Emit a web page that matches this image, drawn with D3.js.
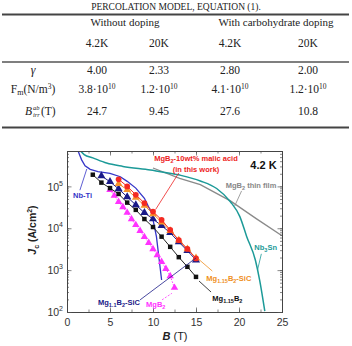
<!DOCTYPE html>
<html>
<head>
<meta charset="utf-8">
<script src="https://cdn.jsdelivr.net/npm/d3@7"></script>
<style>
  body { margin: 0; background: #fff; }
  svg { display: block; }
  .serif { font-family: "Liberation Serif", "Times New Roman", serif; fill: #222; }
  .sans { font-family: "Liberation Sans", Arial, sans-serif; }
</style>
</head>
<body>
<svg id="chart" width="352" height="346"></svg>
<script>
// ---- table values ----
const tableTitle = "PERCOLATION MODEL, EQUATION (1).";
const groupNames = ["Without doping", "With carbohydrate doping"];
const tempLabels = ["4.2K", "20K", "4.2K", "20K"];
const gammaVals = ["4.00", "2.33", "2.80", "2.00"];
const fmMantissa = ["3.8", "1.2", "4.1", "1.2"];
const fmExponent = ["10", "10", "10", "10"];
const birrVals = ["24.7", "9.45", "27.6", "10.8"];

// ---- chart values: B (T), Jc (A/cm2) ----
const bMalic = [6, 7, 8, 9, 10, 11, 12, 13, 14, 15];
const jcMalic = [1.48e5, 1.0e5, 6.3e4, 4.0e4, 2.5e4, 1.58e4, 9.1e3, 5.2e3, 3.2e3, 1.9e3];

const bSic115 = [6, 7, 8, 9, 10, 11, 12, 13, 14, 15];
const jcSic115 = [1.15e5, 8.3e4, 5.4e4, 3.5e4, 2.2e4, 1.4e4, 8.7e3, 5.2e3, 3.2e3, 1.95e3];

const bSic11 = [4, 5, 6, 7, 8, 9, 10, 11, 12, 13, 14, 15];
const jcSic11 = [1.78e5, 1.29e5, 8.7e4, 5.6e4, 3.6e4, 2.35e4, 1.66e4, 1.15e4, 7.8e3, 4.7e3, 2.9e3, 1.74e3];

const bMg115 = [3, 4, 5, 6, 7, 8, 9, 10, 11, 12, 13, 14, 15];
const jcMg115 = [1.9e5, 1.23e5, 9.1e4, 6.6e4, 4.1e4, 2.75e4, 1.66e4, 1.07e4, 6.3e3, 3.6e3, 2.04e3, 1.2e3, 6.9e2];

const bMgB2 = [5, 5.5, 6, 6.5, 7, 7.5, 8, 8.5, 9, 9.5, 10, 10.5, 11, 11.5, 12, 12.5];
const jcMgB2 = [8.3e4, 6.0e4, 4.3e4, 3.2e4, 2.35e4, 1.66e4, 1.2e4, 8.7e3, 6.2e3, 4.5e3, 3.2e3, 2.3e3, 1.58e3, 1.07e3, 7.2e2, 3.8e2];

const bNbTi = [1.3, 1.7, 2.1, 2.7, 3.6, 5, 6.2, 7, 8, 9, 9.85, 10.4, 11];
const jcNbTi = [6.9e5, 4.3e5, 3.1e5, 2.55e5, 2.25e5, 2.05e5, 1.7e5, 1.32e5, 9.1e4, 5.2e4, 2.3e4, 6.3e3, 5.8e2];

const bNb3Sn = [1.6, 2, 3, 4.6, 6.5, 9.7, 13.1, 15.5, 17.4, 19, 20.1, 20.9, 21.9, 22.4, 23.0];
const jcNb3Sn = [6.9e5, 5.75e5, 4.8e5, 3.6e5, 3.0e5, 2.45e5, 1.86e5, 1.35e5, 8.9e4, 4.3e4, 1.9e4, 6.3e3, 1.74e3, 5.8e2, 1.05e2];

const bFilm = [10, 13.1, 15.5, 19, 22, 25];
const jcFilm = [2.75e5, 1.55e5, 1.1e5, 4.5e4, 1.7e4, 6.6e3];

const xTicks = [0, 5, 10, 15, 20, 25];
const yTicks = [1e2, 1e3, 1e4, 1e5];

const svg = d3.select("#chart");

// ---------------- table ----------------
const colX = [97, 159, 230, 308];
const groupX = [125, 276];
const rowLabelX = 33;

svg.append("text").attr("class", "serif").attr("x", 176).attr("y", 10)
  .attr("text-anchor", "middle").attr("font-size", 9.5).attr("fill", "#333").text(tableTitle);

svg.append("line").attr("x1", 2).attr("x2", 349).attr("y1", 14.5).attr("y2", 14.5)
  .attr("stroke", "#444").attr("stroke-width", 2);
svg.append("line").attr("x1", 2).attr("x2", 349).attr("y1", 62).attr("y2", 62)
  .attr("stroke", "#555").attr("stroke-width", 1.3);
svg.append("line").attr("x1", 2).attr("x2", 349).attr("y1", 127.5).attr("y2", 127.5)
  .attr("stroke", "#444").attr("stroke-width", 2);

svg.selectAll(".grp").data(groupNames).enter().append("text")
  .attr("class", "serif").attr("x", (d, i) => groupX[i]).attr("y", 26)
  .attr("text-anchor", "middle").attr("font-size", 11).text(d => d);

svg.selectAll(".tmp").data(tempLabels).enter().append("text")
  .attr("class", "serif").attr("x", (d, i) => colX[i]).attr("y", 47)
  .attr("text-anchor", "middle").attr("font-size", 11.5).text(d => d);

// gamma row
svg.append("text").attr("class", "serif").attr("x", rowLabelX).attr("y", 74)
  .attr("text-anchor", "middle").attr("font-size", 12).attr("font-style", "italic").text("γ");
svg.selectAll(".gam").data(gammaVals).enter().append("text")
  .attr("class", "serif").attr("x", (d, i) => colX[i]).attr("y", 74)
  .attr("text-anchor", "middle").attr("font-size", 11.5).text(d => d);

// Fm row
const fmLabel = svg.append("text").attr("class", "serif").attr("x", rowLabelX).attr("y", 93)
  .attr("text-anchor", "middle").attr("font-size", 11.5);
fmLabel.append("tspan").text("F");
fmLabel.append("tspan").attr("font-size", 8).attr("dy", 2).text("m");
fmLabel.append("tspan").attr("dy", -2).text("(N/m");
fmLabel.append("tspan").attr("font-size", 7.5).attr("dy", -4).text("3");
fmLabel.append("tspan").attr("dy", 4).text(")");

svg.selectAll(".fm").data(fmMantissa).enter().append("text")
  .attr("class", "serif").attr("x", (d, i) => colX[i]).attr("y", 93)
  .attr("text-anchor", "middle").attr("font-size", 11.5)
  .each(function (d, i) {
    const t = d3.select(this);
    t.append("tspan").text(d + "·" + fmExponent[i]);
    t.append("tspan").attr("font-size", 7.5).attr("dy", -4).text("10");
  });

// B_irr row
svg.append("text").attr("class", "serif").attr("x", 25).attr("y", 115)
  .attr("font-size", 11.5).attr("font-style", "italic").text("B");
svg.append("text").attr("class", "serif").attr("x", 33).attr("y", 110)
  .attr("font-size", 6.5).attr("font-style", "italic").text("ab");
svg.append("text").attr("class", "serif").attr("x", 33).attr("y", 117)
  .attr("font-size", 6.5).attr("font-style", "italic").text("irr");
svg.append("text").attr("class", "serif").attr("x", 41).attr("y", 115)
  .attr("font-size", 11.5).text("(T)");
svg.selectAll(".birr").data(birrVals).enter().append("text")
  .attr("class", "serif").attr("x", (d, i) => colX[i]).attr("y", 115)
  .attr("text-anchor", "middle").attr("font-size", 11.5).text(d => d);

// ---------------- chart ----------------
const x = d3.scaleLinear().domain([0, 25]).range([67, 282]);
const y = d3.scaleLog().domain([1e2, 7e5]).range([312, 151]);

svg.append("defs").append("clipPath").attr("id", "plotclip")
  .append("rect").attr("x", 67).attr("y", 151).attr("width", 215).attr("height", 161);

const plot = svg.append("g").attr("clip-path", "url(#plotclip)");

// axes with inward ticks
const minorY = [];
for (let e = 2; e <= 5; e++) for (let m = 1; m <= 9; m++) {
  const v = m * Math.pow(10, e);
  if (v <= 7e5) minorY.push(v);
}
const minorX = d3.range(0, 25.01, 2.5);

const axisG = svg.append("g").attr("class", "sans");
axisG.append("g").attr("transform", "translate(0,312)")
  .call(d3.axisBottom(x).tickValues(minorX).tickSize(-2.5).tickFormat(""));
axisG.append("g").attr("transform", "translate(0,312)")
  .call(d3.axisBottom(x).tickValues(xTicks).tickSize(-4.5).tickPadding(7).tickFormat(d3.format("d")));
axisG.append("g").attr("transform", "translate(0,151)")
  .call(d3.axisTop(x).tickValues(minorX).tickSize(-2.5).tickFormat(""));
axisG.append("g").attr("transform", "translate(0,151)")
  .call(d3.axisTop(x).tickValues(xTicks).tickSize(-4.5).tickFormat(""));
axisG.append("g").attr("transform", "translate(67,0)")
  .call(d3.axisLeft(y).tickValues(minorY).tickSize(-2).tickFormat(""));
const yAxis = axisG.append("g").attr("transform", "translate(67,0)")
  .call(d3.axisLeft(y).tickValues(yTicks).tickSize(-4.5).tickPadding(5).tickFormat(""));
axisG.append("g").attr("transform", "translate(282,0)")
  .call(d3.axisRight(y).tickValues(minorY).tickSize(-2).tickFormat(""));
axisG.append("g").attr("transform", "translate(282,0)")
  .call(d3.axisRight(y).tickValues(yTicks).tickSize(-4.5).tickFormat(""));

axisG.selectAll(".domain").attr("stroke", "#444").attr("stroke-width", 1);
axisG.selectAll(".tick line").attr("stroke", "#555").attr("stroke-width", 0.7);
axisG.selectAll(".tick text").attr("font-size", 10.5).attr("fill", "#333")
  .attr("font-family", "Liberation Sans, Arial, sans-serif");

yAxis.selectAll(".tick").each(function (d) {
  const t = d3.select(this).append("text").attr("x", -4).attr("dy", "0.35em")
    .attr("text-anchor", "end").attr("fill", "#333").attr("font-size", 10.5)
    .attr("font-family", "Liberation Sans, Arial, sans-serif");
  t.append("tspan").text("10");
  t.append("tspan").attr("font-size", 7).attr("dy", -5).text(Math.round(Math.log10(d)));
});

// axis titles
const yTitle = svg.append("text").attr("class", "sans")
  .attr("transform", "translate(36,230) rotate(-90)")
  .attr("text-anchor", "middle").attr("font-size", 10.5).attr("font-weight", "bold").attr("fill", "#222");
yTitle.append("tspan").attr("font-style", "italic").text("J");
yTitle.append("tspan").attr("font-size", 7).attr("dy", 2.5).text("c");
yTitle.append("tspan").attr("dy", -2.5).text(" (A/cm");
yTitle.append("tspan").attr("font-size", 7).attr("dy", -4).text("2");
yTitle.append("tspan").attr("dy", 4).text(")");

const xTitle = svg.append("text").attr("class", "sans").attr("x", 175).attr("y", 340)
  .attr("text-anchor", "middle").attr("font-size", 11).attr("fill", "#222");
xTitle.append("tspan").attr("font-style", "italic").attr("font-weight", "bold").text("B");
xTitle.append("tspan").text(" (T)");

// series
const line = d3.line().x(d => x(d[0])).y(d => y(d[1]));
const zip = (a, b) => a.map((v, i) => [v, b[i]]);

plot.append("path").datum(zip(bFilm, jcFilm)).attr("d", line)
  .attr("fill", "none").attr("stroke", "#8a8a8a").attr("stroke-width", 1.3);
plot.append("path").datum(zip(bNb3Sn, jcNb3Sn)).attr("d", line.curve(d3.curveMonotoneX))
  .attr("fill", "none").attr("stroke", "#1c9a98").attr("stroke-width", 1.5);
plot.append("path").datum(zip(bNbTi, jcNbTi)).attr("d", line.curve(d3.curveLinear))
  .attr("fill", "none").attr("stroke", "#3535c8").attr("stroke-width", 1.3);

function drawSeries(bs, js, color, lineColor, symbol, size, dash) {
  const pts = zip(bs, js);
  plot.append("path").datum(pts).attr("d", line)
    .attr("fill", "none").attr("stroke", lineColor).attr("stroke-width", 1)
    .attr("stroke-dasharray", dash || null);
  plot.selectAll(null).data(pts).enter().append("path")
    .attr("transform", d => `translate(${x(d[0])},${y(d[1])})`)
    .attr("d", d3.symbol().type(symbol).size(size))
    .attr("fill", color);
}

drawSeries(bMgB2, jcMgB2, "#ff33ff", "#ff33ff", d3.symbolTriangle, 24, "1.5,1.5");
drawSeries(bMg115, jcMg115, "#111", "#222", d3.symbolSquare, 20);
drawSeries(bSic11, jcSic11, "#1a1a88", "#1a1a88", d3.symbolTriangle, 28);
drawSeries(bSic115, jcSic115, "#f4922a", "#f4922a", d3.symbolTriangle, 26);
drawSeries(bMalic, jcMalic, "#f42a22", "#f42a22", d3.symbolCircle, 26);

// annotations (positions in data units); text parts: [string, isSubscript]
const notes = [
  { lines: [[["MgB"], ["2", 1], ["-10wt% malic acid"]], [["(in this work)"]]], b: 15, j: 4.1e5, color: "#ee2222", anchor: "middle", from: [13.0, 2.1e5], to: [10.3, 2.8e4] },
  { lines: [[["MgB"], ["2", 1], [" thin film"]]], b: 21.4, j: 9.1e4, color: "#888", anchor: "middle", from: [20.3, 7.8e4], to: [19.5, 3.4e4] },
  { lines: [[["Nb"], ["3", 1], ["Sn"]]], b: 23.1, j: 3.0e3, color: "#1c9a98", anchor: "middle", from: [22.6, 2.45e3], to: [22.15, 1.0e3] },
  { lines: [[["Mg"], ["1.15", 1], ["B"], ["2", 1], ["-SiC"]]], b: 16.2, j: 5.5e2, color: "#ef8f22", anchor: "start", from: [15.2, 1.9e3], to: [16.9, 9.5e2] },
  { lines: [[["Mg"], ["1.15", 1], ["B"], ["2", 1]]], b: 16.9, j: 1.82e2, color: "#111", anchor: "start", from: [15.35, 5.5e2], to: [16.75, 3.0e2] },
  { lines: [[["Mg"], ["1.1", 1], ["B"], ["2", 1], ["-SiC"]]], b: 3.6, j: 1.48e2, color: "#1a1a88", anchor: "start", from: [8.5, 1.95e2], to: [15.0, 1.95e3] },
  { lines: [[["MgB"], ["2", 1]]], b: 9.2, j: 1.3e2, color: "#ff33ff", anchor: "start", from: [11.05, 1.95e2], to: [12.2, 2.8e2], dash: "2,1.5" },
  { lines: [[["Nb-Ti"]]], b: 0.7, j: 5.2e4, color: "#3535c8", anchor: "start", from: [1.5, 8.1e4], to: [2.3, 2.6e5] }
];

notes.forEach(n => {
  svg.append("line").attr("x1", x(n.from[0])).attr("y1", y(n.from[1]))
    .attr("x2", x(n.to[0])).attr("y2", y(n.to[1]))
    .attr("stroke", n.color).attr("stroke-width", 0.8)
    .attr("stroke-dasharray", n.dash || null);
  n.lines.forEach((parts, i) => {
    const t = svg.append("text").attr("class", "sans").attr("x", x(n.b)).attr("y", y(n.j) + i * 11)
      .attr("text-anchor", n.anchor).attr("font-size", 7.5).attr("font-weight", "bold")
      .attr("fill", n.color);
    let shifted = false;
    parts.forEach(p => {
      const sub = !!p[1];
      const ts = t.append("tspan").text(p[0]);
      if (sub && !shifted) { ts.attr("dy", 2).attr("font-size", 5.5); shifted = true; }
      else if (sub) { ts.attr("font-size", 5.5); }
      else if (shifted) { ts.attr("dy", -2); shifted = false; }
    });
  });
});

svg.append("text").attr("class", "sans").attr("x", x(22.85)).attr("y", y(2.6e5))
  .attr("text-anchor", "middle").attr("font-size", 11).attr("font-weight", "bold")
  .attr("fill", "#111").text("4.2 K");
</script>
</body>
</html>
